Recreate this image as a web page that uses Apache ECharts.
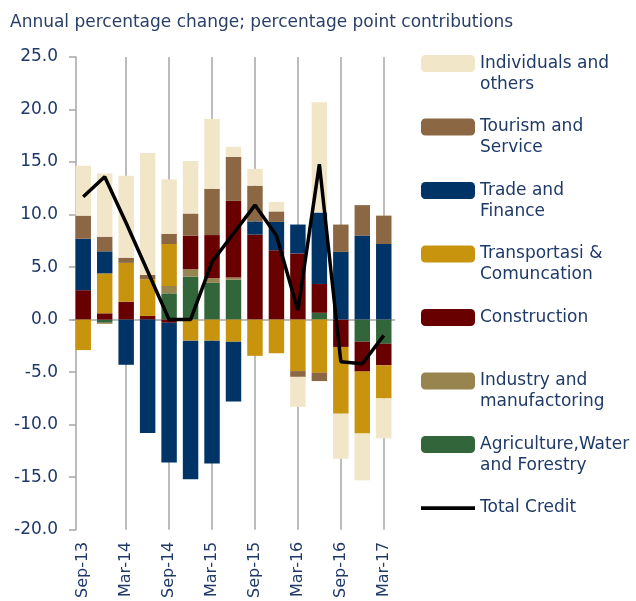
<!DOCTYPE html>
<html>
<head>
<meta charset="utf-8">
<script src="https://cdn.jsdelivr.net/npm/echarts@6/dist/echarts.min.js"></script>
<style>
  html, body { margin: 0; padding: 0; background: #ffffff; }
  #chart { width: 636px; height: 601px; }
</style>
</head>
<body>
<div id="chart"></div>
<script>
// ---- Data ----
const categories = ['Sep-13','Dec-13','Mar-14','Jun-14','Sep-14','Dec-14','Mar-15','Jun-15','Sep-15','Dec-15','Mar-16','Jun-16','Sep-16','Dec-16','Mar-17'];
const gridLineCats = ['Mar-14','Sep-14','Mar-15','Sep-15','Mar-16','Sep-16','Mar-17'];

const agriculture  = [0, -0.3, 0, 0, 2.5, 4.1, 3.5, 3.8, 0, 0, 0, 0.65, 0, -2.1, -2.3];
const industry     = [0, -0.1, 0, 0, 0.7, 0.7, 0.45, 0.2, 0, 0, 0, 0, 0, 0, 0];
const construction = [2.8, 0.6, 1.7, 0.35, -0.3, 3.2, 4.1, 7.3, 8.1, 6.6, 6.3, 2.75, -2.6, -2.85, -2.05];
const transport    = [-2.9, 3.8, 3.7, 3.5, 4.0, -2.0, -2.0, -2.1, -3.45, -3.2, -4.9, -5.05, -6.35, -5.9, -3.15];
const trade        = [4.9, 2.1, -4.3, -10.8, -13.3, -13.2, -11.7, -5.7, 1.25, 2.7, 2.75, 6.8, 6.45, 8.0, 7.2];
const tourism      = [2.2, 1.4, 0.5, 0.4, 0.95, 2.1, 4.4, 4.2, 3.4, 1.0, -0.55, -0.8, 2.6, 2.9, 2.7];
const individuals  = [4.75, 6.0, 7.8, 11.6, 5.2, 5.0, 6.65, 0.95, 1.6, 0.9, -2.85, 10.5, -4.3, -4.45, -3.8];
const totalCredit  = [11.7, 13.6, 9.2, 4.6, 0.0, 0.0, 5.5, 8.2, 10.9, 8.0, 0.9, 14.8, -4.0, -4.2, -1.5];

const seriesNames = ['Agriculture,Water and Forestry','Industry and manufactoring','Construction','Transportasi & Comuncation','Trade and Finance','Tourism and Service','Individuals and others'];
const seriesData  = [agriculture, industry, construction, transport, trade, tourism, individuals];
const seriesColors = ['#33653a', '#98844f', '#680000', '#c8940e', '#003366', '#8b6843', '#f2e6c8'];

const legendOrder = ['Individuals and others','Tourism and Service','Trade and Finance','Transportasi & Comuncation','Construction','Industry and manufactoring','Agriculture,Water and Forestry','Total Credit'];
const legendLabels = {
  'Individuals and others': 'Individuals and\nothers',
  'Tourism and Service': 'Tourism and\nService',
  'Trade and Finance': 'Trade and\nFinance',
  'Transportasi & Comuncation': 'Transportasi &\nComuncation',
  'Construction': 'Construction\n',
  'Industry and manufactoring': 'Industry and\nmanufactoring',
  'Agriculture,Water and Forestry': 'Agriculture,Water\nand Forestry',
  'Total Credit': 'Total Credit\n'
};

const titleText = 'Annual percentage change; percentage point contributions';
const yMin = -20, yMax = 25, yStep = 5;

// ---- Chart ----
const FONT = 'DejaVu Sans';
const TXT = '#1f3a68';
const AXIS = '#a6a6a6';
// thick short line icon inside a 54x17 box (degenerate segments fix the box height)
const LINE_ICON = 'path://M0,0L0.01,0L0.01,0.01ZM0,6.8L54,6.8L54,10.6L0,10.6ZM0,17L0.01,17L0.01,16.99Z';
const chart = echarts.init(document.getElementById('chart'), null, { renderer: 'canvas' });

const barSeries = seriesNames.map((name, i) => {
  const s = {
    name: name,
    type: 'bar',
    stack: 'credit',
    xAxisIndex: 1,
    barWidth: '72%',
    itemStyle: { color: seriesColors[i] },
    data: seriesData[i],
    z: 2
  };
  if (i === 0) {
    s.markLine = {
      silent: true,
      z: 1,
      symbol: ['none', 'none'],
      label: { show: false },
      lineStyle: { color: AXIS, width: 1.5, type: 'solid' },
      emphasis: { disabled: true },
      data: gridLineCats.map(c => ({ xAxis: c }))
    };
  }
  return s;
});

const option = {
  animation: false,
  backgroundColor: '#ffffff',
  title: {
    text: titleText,
    left: 5,
    top: 9,
    textStyle: { fontFamily: FONT, fontSize: 17, fontWeight: 'normal', color: '#2a3f66' }
  },
  legend: {
    orient: 'vertical',
    left: 421,
    top: 32,
    padding: 0,
    itemWidth: 54,
    itemHeight: 17,
    itemGap: 0.5,
    data: legendOrder.map(n => n === 'Total Credit'
      ? { name: n, icon: LINE_ICON, itemStyle: { color: '#000000', borderWidth: 0 } }
      : { name: n, icon: 'roundRect' }),
    formatter: name => '\n' + legendLabels[name],
    textStyle: { fontFamily: FONT, fontSize: 17, color: TXT, lineHeight: 21 }
  },
  grid: { left: 72.5, top: 57, width: 322, bottom: 70, containLabel: false },
  xAxis: [
    {
      type: 'category',
      data: categories,
      position: 'top',
      axisLine: { show: true, onZero: true, lineStyle: { color: AXIS, width: 1.5 } },
      axisTick: { show: true, inside: true, length: 5, alignWithLabel: true, interval: 1, lineStyle: { color: AXIS, width: 1.5 } },
      axisLabel: { show: false, interval: 1 },
      splitLine: { show: false }
    },
    {
      type: 'category',
      data: categories,
      position: 'bottom',
      axisLine: { show: false, onZero: false },
      axisTick: { show: false },
      axisLabel: { show: true, interval: 1, rotate: 90, margin: 12, fontFamily: FONT, fontSize: 16, color: TXT },
      splitLine: { show: false }
    }
  ],
  yAxis: {
    type: 'value',
    min: yMin,
    max: yMax,
    interval: yStep,
    offset: -3.5,
    axisLine: { show: true, lineStyle: { color: AXIS, width: 1.5 } },
    axisTick: { show: true, length: 7, lineStyle: { color: AXIS, width: 1.5 } },
    axisLabel: { margin: 18, fontFamily: FONT, fontSize: 17, color: TXT, formatter: v => v.toFixed(1) },
    splitLine: { show: false }
  },
  series: barSeries.concat([{
    name: 'Total Credit',
    type: 'line',
    xAxisIndex: 1,
    data: totalCredit,
    symbol: 'none',
    showSymbol: false,
    lineStyle: { color: '#000000', width: 3.5 },
    itemStyle: { color: '#000000' },
    z: 5
  }])
};
chart.setOption(option);
</script>
</body>
</html>
